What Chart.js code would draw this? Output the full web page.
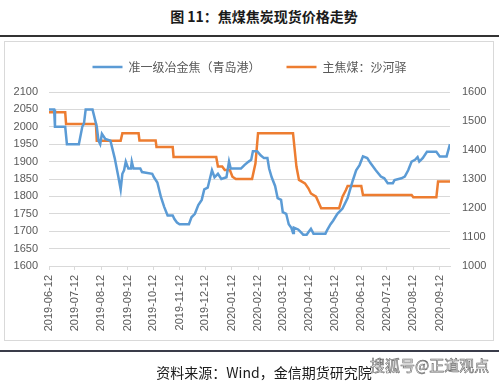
<!DOCTYPE html>
<html>
<head>
<meta charset="utf-8">
<script src="https://cdn.jsdelivr.net/npm/chart.js@4.4.1/dist/chart.umd.min.js"></script>
<style>
html,body{margin:0;padding:0;background:#fff;}
#wrap{position:relative;width:499px;height:382px;overflow:hidden;font-family:"Noto Sans CJK SC",sans-serif;}
#title{position:absolute;left:0;width:528px;top:6px;text-align:center;font-weight:bold;font-size:14px;line-height:20px;color:#1a1a1a;white-space:nowrap;}
#rule1{position:absolute;left:0;top:35px;width:499px;height:2px;background:#333;}
#frame{position:absolute;left:4px;top:41px;width:488px;height:298px;border:1px solid #d9d9d9;}
#rule2{position:absolute;left:0;top:350px;width:499px;height:2px;background:#3a3c4a;}
#source{position:absolute;left:0;width:528px;top:362px;text-align:center;font-size:14px;line-height:20px;color:#1a1a1a;white-space:nowrap;}
#mark{position:absolute;left:370px;top:355px;font-size:15px;line-height:20px;color:#fff;-webkit-text-stroke:0.6px #666;white-space:nowrap;}
canvas{position:absolute;left:0;top:0;}
</style>
</head>
<body>
<div id="wrap">
  <div id="title">图 11：焦煤焦炭现货价格走势</div>
  <div id="rule1"></div>
  <div id="frame"></div>
  <canvas id="c" width="499" height="382"></canvas>
  <div id="rule2"></div>
  <div id="source">资料来源：Wind，金信期货研究院</div>
  <div id="mark">搜狐号@正道观点</div>
</div>
<script>
// ---- data ----
const seriesNames = ['准一级冶金焦（青岛港）', '主焦煤：沙河驿'];

const tickDates = ['2019-06-12','2019-07-12','2019-08-12','2019-09-12','2019-10-12','2019-11-12',
  '2019-12-12','2020-01-12','2020-02-12','2020-03-12','2020-04-12','2020-05-12','2020-06-12',
  '2020-07-12','2020-08-12','2020-09-12'];
const startDate = '2019-06-12';
const endDate = '2020-09-24';

const blueDates = [
  '2019-06-12','2019-06-18','2019-06-19','2019-07-01','2019-07-03','2019-07-17','2019-07-21','2019-07-23','2019-07-25','2019-08-02',
  '2019-08-05','2019-08-07','2019-08-09','2019-08-11','2019-08-13','2019-08-17','2019-08-23','2019-08-28','2019-09-01','2019-09-04',
  '2019-09-06','2019-09-08','2019-09-10','2019-09-13','2019-09-16','2019-09-17','2019-09-19','2019-09-27','2019-09-29','2019-10-11',
  '2019-10-13','2019-10-17','2019-10-21','2019-10-25','2019-10-29','2019-11-04','2019-11-06','2019-11-09','2019-11-12','2019-11-23',
  '2019-11-26','2019-11-30','2019-12-04','2019-12-08','2019-12-11','2019-12-15','2019-12-20','2019-12-23','2019-12-27','2019-12-31',
  '2020-01-06','2020-01-09','2020-01-11','2020-01-23','2020-01-27','2020-02-01','2020-02-04','2020-02-06','2020-02-11','2020-02-15',
  '2020-02-19','2020-02-23','2020-02-25','2020-02-28','2020-03-03','2020-03-06','2020-03-10','2020-03-12','2020-03-16','2020-03-19',
  '2020-03-22','2020-03-24','2020-03-25','2020-03-30','2020-04-01','2020-04-05','2020-04-09','2020-04-11','2020-04-14','2020-04-17',
  '2020-05-01','2020-05-03','2020-05-07','2020-05-10','2020-05-15','2020-05-21','2020-05-27','2020-06-02','2020-06-06','2020-06-10',
  '2020-06-14','2020-06-19','2020-06-23','2020-06-29','2020-07-05','2020-07-09','2020-07-13','2020-07-19','2020-07-21','2020-07-29',
  '2020-08-02','2020-08-06','2020-08-10','2020-08-14','2020-08-17','2020-08-19','2020-08-23','2020-08-28','2020-09-08','2020-09-12',
  '2020-09-20','2020-09-24'];
const blueValues = [
  2050,2050,2000,2000,1950,1950,2000,2010,2050,2050,
  2020,2000,1960,1950,1980,1965,1960,1910,1860,1820,
  1865,1875,1900,1880,1880,1900,1880,1880,1870,1865,
  1855,1840,1800,1770,1745,1745,1735,1725,1720,1720,
  1740,1750,1775,1790,1820,1825,1875,1855,1865,1850,
  1855,1900,1880,1880,1890,1900,1905,1930,1930,1918,
  1910,1910,1880,1855,1830,1795,1790,1755,1750,1720,
  1710,1695,1710,1705,1700,1690,1690,1697,1707,1693,
  1693,1703,1720,1730,1750,1765,1795,1845,1875,1890,
  1915,1910,1895,1875,1857,1852,1838,1838,1847,1852,
  1857,1875,1900,1905,1913,1900,1910,1928,1928,1915,
  1915,1950];

const orangeDates = [
  '2019-06-12','2019-07-01','2019-07-02','2019-08-06','2019-08-07','2019-09-04','2019-09-06','2019-09-25','2019-09-26','2019-10-15',
  '2019-10-16','2019-11-04','2019-11-05','2019-12-25','2019-12-27','2020-01-01','2020-01-04','2020-01-10','2020-01-13','2020-01-17',
  '2020-02-05','2020-02-09','2020-02-12','2020-03-24','2020-03-28','2020-03-31','2020-04-07','2020-04-11','2020-04-14','2020-04-20',
  '2020-04-26','2020-05-17','2020-05-21','2020-05-25','2020-05-27','2020-06-12','2020-06-14','2020-08-10','2020-08-12','2020-09-08',
  '2020-09-10','2020-09-24'];
const orangeValues = [
  1530,1530,1490,1490,1432,1432,1458,1458,1433,1433,
  1410,1410,1376,1376,1343,1343,1331,1331,1308,1300,
  1300,1354,1458,1458,1343,1297,1285,1268,1250,1239,
  1199,1199,1239,1262,1276,1276,1245,1245,1237,1237,
  1291,1291];

const leftTicks = {min:1600, max:2100, step:50};
const rightTicks = {min:1000, max:1600, step:100};

// ---- helpers ----
function toDay(s){
  const t = Date.UTC(+s.slice(0,4), +s.slice(5,7)-1, +s.slice(8,10));
  const t0 = Date.UTC(+startDate.slice(0,4), +startDate.slice(5,7)-1, +startDate.slice(8,10));
  return Math.round((t - t0)/86400000);
}
const tickMap = {};
tickDates.forEach(d => { tickMap[toDay(d)] = d; });

const grey = '#595959';
const gridCol = '#d9d9d9';
const tickFont = {family:'"Liberation Sans", Arial, sans-serif', size:11};

const gapPlugin = {
  id:'legendGap',
  afterInit(chart){
    const lg = chart.legend;
    if (lg && !lg._gapPatched){
      const f = lg.fit;
      lg.fit = function(){ f.call(this); this.height += 9; };
      lg._gapPatched = true;
    }
  }
};

new Chart(document.getElementById('c'), {
  type:'line',
  data:{
    datasets:[
      {label:seriesNames[0], data:blueDates.map((d,i)=>({x:toDay(d), y:blueValues[i]})),
       borderColor:'#5b9bd5', backgroundColor:'#5b9bd5', borderWidth:2.5, pointRadius:0, tension:0, yAxisID:'yL'},
      {label:seriesNames[1], data:orangeDates.map((d,i)=>({x:toDay(d), y:orangeValues[i]})),
       borderColor:'#ed7d31', backgroundColor:'#ed7d31', borderWidth:2.5, pointRadius:0, tension:0, yAxisID:'yR'}
    ]
  },
  options:{
    responsive:false, animation:false, devicePixelRatio:1,
    layout:{padding:{top:35, left:0, right:0, bottom:46}},
    plugins:{
      legend:{position:'top', labels:{usePointStyle:true, pointStyle:'line', pointStyleWidth:30, padding:26,
        color:grey, font:{family:'"Noto Sans CJK SC", sans-serif', size:12}}},
      tooltip:{enabled:false}
    },
    scales:{
      x:{type:'linear', min:0, max:toDay(endDate),
        afterBuildTicks:(s)=>{ s.ticks = tickDates.map(d=>({value:toDay(d)})); },
        ticks:{autoSkip:false, minRotation:90, maxRotation:90, padding:5, color:grey, font:tickFont,
          callback:(v)=> tickMap[v] || ''},
        grid:{drawOnChartArea:false, drawTicks:true, tickLength:4, color:gridCol},
        border:{display:true, color:gridCol},
        afterFit:(s)=>{ s.height = 70; }
      },
      yL:{position:'left', min:leftTicks.min, max:leftTicks.max,
        ticks:{stepSize:leftTicks.step, padding:11, color:grey, font:tickFont, callback:(v)=>String(v)},
        grid:{color:gridCol, drawTicks:false},
        border:{display:false},
        afterFit:(s)=>{ s.width = 49; }
      },
      yR:{position:'right', min:rightTicks.min, max:rightTicks.max,
        ticks:{stepSize:rightTicks.step, padding:12, color:grey, font:tickFont, callback:(v)=>String(v)},
        grid:{display:false, drawTicks:false},
        border:{display:false},
        afterFit:(s)=>{ s.width = 49; }
      }
    }
  },
  plugins:[gapPlugin]
});
</script>
</body>
</html>
